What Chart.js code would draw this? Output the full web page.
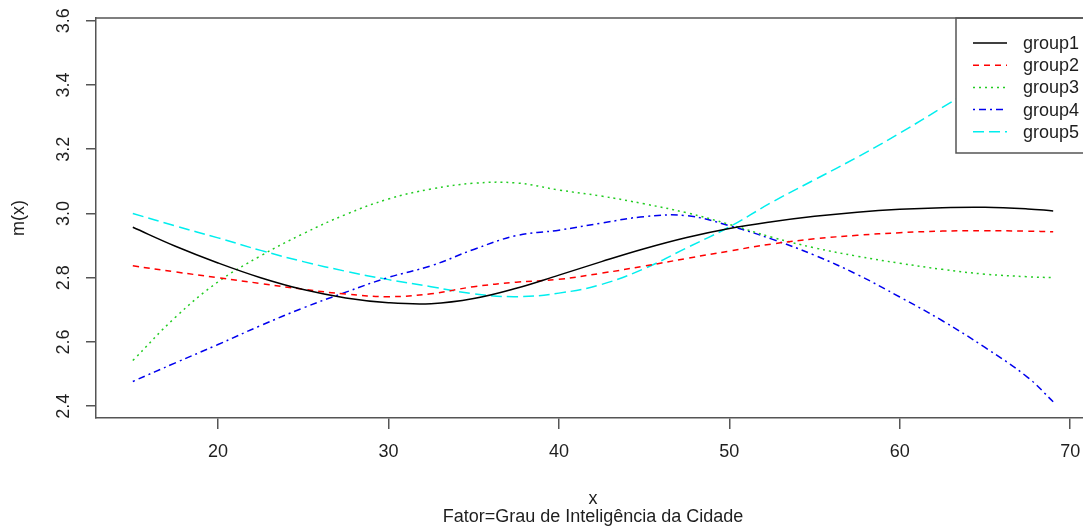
<!DOCTYPE html>
<html>
<head>
<meta charset="utf-8">
<title>m(x) por grupo</title>
<script src="https://cdn.jsdelivr.net/npm/chart.js@4.4.1/dist/chart.umd.min.js"></script>
<style>
    html, body { margin: 0; padding: 0; background: #fff; overflow: hidden; }
    #wrap { width: 1100px; height: 531px; }
</style>
</head>
<body>
<div id="wrap"><canvas id="chart" width="1100" height="531"></canvas></div>
<script>
(function () {
    'use strict';

    // values, on a common x grid
    const xValues = [15, 17.5, 20, 22.5, 25, 27.5, 30, 32.5, 35, 37.5, 40, 42.5, 45, 47.5, 50, 52.5, 55, 57.5, 60, 62.5, 65, 67.5, 69];
    const group1 = [2.957, 2.898, 2.846, 2.800, 2.763, 2.737, 2.722, 2.719, 2.735, 2.767, 2.808, 2.850, 2.890, 2.925, 2.953, 2.974, 2.991, 3.004, 3.013, 3.018, 3.019, 3.014, 3.008];
    const group2 = [2.837, 2.818, 2.800, 2.782, 2.764, 2.749, 2.741, 2.750, 2.772, 2.786, 2.795, 2.814, 2.836, 2.860, 2.883, 2.905, 2.921, 2.932, 2.940, 2.945, 2.946, 2.945, 2.943];
    const group3 = [2.542, 2.677, 2.787, 2.868, 2.937, 2.997, 3.045, 3.076, 3.094, 3.095, 3.073, 3.054, 3.030, 3.002, 2.966, 2.926, 2.893, 2.867, 2.845, 2.826, 2.811, 2.803, 2.800];
    const group4 = [2.477, 2.535, 2.592, 2.651, 2.706, 2.755, 2.801, 2.837, 2.888, 2.931, 2.948, 2.970, 2.990, 2.993, 2.962, 2.920, 2.870, 2.810, 2.740, 2.666, 2.583, 2.490, 2.414];
    const group5 = [3.000, 2.961, 2.924, 2.885, 2.850, 2.820, 2.794, 2.772, 2.750, 2.741, 2.752, 2.779, 2.828, 2.893, 2.958, 3.035, 3.105, 3.175, 3.250, 3.330, 3.410, 3.490, 3.545];

    const seriesNames = ['group1', 'group2', 'group3', 'group4', 'group5'];
    const xTicks = [20, 30, 40, 50, 60, 70];
    const yTicks = [2.4, 2.6, 2.8, 3.0, 3.2, 3.4, 3.6];
    const xTitle = 'x';
    const subTitle = 'Fator=Grau de Inteligência da Cidade';
    const yTitle = 'm(x)';

    const FONT = '"Liberation Sans", Arial, Helvetica, sans-serif';
    const TEXT = '#1e1e1e';
    const AXIS = '#555555';

    const styles = [
        { color: '#000000', dash: [] },
        { color: '#FF0000', dash: [6, 5] },
        { color: '#22CC22', dash: [2, 4] },
        { color: '#0000EE', dash: [2, 4, 7, 4] },
        { color: '#00EEEE', dash: [11, 5] }
    ];

    function toPoints(values) {
        return values.map(function (v, i) { return { x: xValues[i], y: v }; });
    }

    const seriesValues = [group1, group2, group3, group4, group5];

    const datasets = seriesValues.map(function (values, i) {
        return {
            label: seriesNames[i],
            data: toPoints(values),
            borderColor: styles[i].color,
            borderDash: styles[i].dash,
            borderWidth: 1.5,
            pointRadius: 0,
            fill: false,
            tension: 0.4
        };
    });

    // R-style extras: closing box, rotated y labels, boxed legend
    const rFrame = {
        id: 'rFrame',
        afterDatasetsDraw: function (chart) {
            const ctx = chart.ctx;
            const area = chart.chartArea;
            const boxLeft = area.right - 134;
            const boxBottom = 153;

            ctx.save();
            ctx.fillStyle = '#ffffff';
            ctx.fillRect(boxLeft, area.top, area.right - boxLeft, boxBottom - area.top);
            ctx.strokeStyle = AXIS;
            ctx.lineWidth = 1.5;
            ctx.strokeRect(boxLeft, area.top, area.right - boxLeft, boxBottom - area.top);

            ctx.font = '18px ' + FONT;
            ctx.textAlign = 'left';
            ctx.textBaseline = 'middle';
            chart.data.datasets.forEach(function (ds, i) {
                const rowY = area.top + 25 + i * 22.2;
                ctx.beginPath();
                ctx.setLineDash(ds.borderDash);
                ctx.strokeStyle = ds.borderColor;
                ctx.lineWidth = 1.5;
                ctx.moveTo(boxLeft + 17, rowY);
                ctx.lineTo(boxLeft + 51, rowY);
                ctx.stroke();
                ctx.setLineDash([]);
                ctx.fillStyle = TEXT;
                ctx.fillText(ds.label, boxLeft + 67, rowY + 1);
            });
            ctx.restore();
        },
        afterDraw: function (chart) {
            const ctx = chart.ctx;
            const area = chart.chartArea;
            const yScale = chart.scales.y;

            ctx.save();
            ctx.strokeStyle = AXIS;
            ctx.lineWidth = 1.5;
            ctx.beginPath();
            ctx.moveTo(area.left, area.top);
            ctx.lineTo(area.right, area.top);
            ctx.lineTo(area.right, area.bottom);
            ctx.stroke();

            ctx.font = '18px ' + FONT;
            ctx.fillStyle = TEXT;
            ctx.textAlign = 'center';
            ctx.textBaseline = 'middle';
            yScale.ticks.forEach(function (t) {
                const py = yScale.getPixelForValue(t.value);
                ctx.save();
                ctx.translate(area.left - 32, py);
                ctx.rotate(-Math.PI / 2);
                ctx.fillText(t.value.toFixed(1), 0, 0);
                ctx.restore();
            });
            ctx.restore();
        }
    };

    Chart.defaults.font.family = FONT;
    Chart.defaults.color = TEXT;

    new Chart(document.getElementById('chart'), {
        type: 'line',
        data: { datasets: datasets },
        plugins: [rFrame],
        options: {
            responsive: false,
            animation: false,
            events: [],
            layout: { padding: { top: 18, right: 10, left: 0, bottom: 0 } },
            plugins: {
                legend: { display: false },
                tooltip: { enabled: false }
            },
            scales: {
                x: {
                    type: 'linear',
                    min: 12.84,
                    max: 71.16,
                    afterBuildTicks: function (scale) {
                        scale.ticks = xTicks.map(function (v) { return { value: v }; });
                    },
                    afterFit: function (scale) { scale.height = 113; },
                    grid: { drawOnChartArea: false, tickLength: 11, color: AXIS, lineWidth: 1.5 },
                    border: { display: true, color: AXIS, width: 1.5 },
                    ticks: {
                        autoSkip: false,
                        maxRotation: 0,
                        padding: 12,
                        font: { size: 18 },
                        color: TEXT
                    },
                    title: {
                        display: true,
                        text: [xTitle, subTitle],
                        font: { size: 18, lineHeight: 1 },
                        color: TEXT,
                        padding: { top: 0, bottom: 5 }
                    }
                },
                y: {
                    type: 'linear',
                    min: 2.3633,
                    max: 3.6084,
                    afterBuildTicks: function (scale) {
                        scale.ticks = yTicks.map(function (v) { return { value: v }; });
                    },
                    afterFit: function (scale) { scale.width = 96; },
                    grid: { drawOnChartArea: false, tickLength: 10, color: AXIS, lineWidth: 1.5 },
                    border: { display: true, color: AXIS, width: 1.5 },
                    ticks: { display: false },
                    title: {
                        display: true,
                        text: yTitle,
                        font: { size: 18 },
                        color: TEXT,
                        padding: { top: 8, bottom: 0 }
                    }
                }
            }
        }
    });
})();
</script>
</body>
</html>
